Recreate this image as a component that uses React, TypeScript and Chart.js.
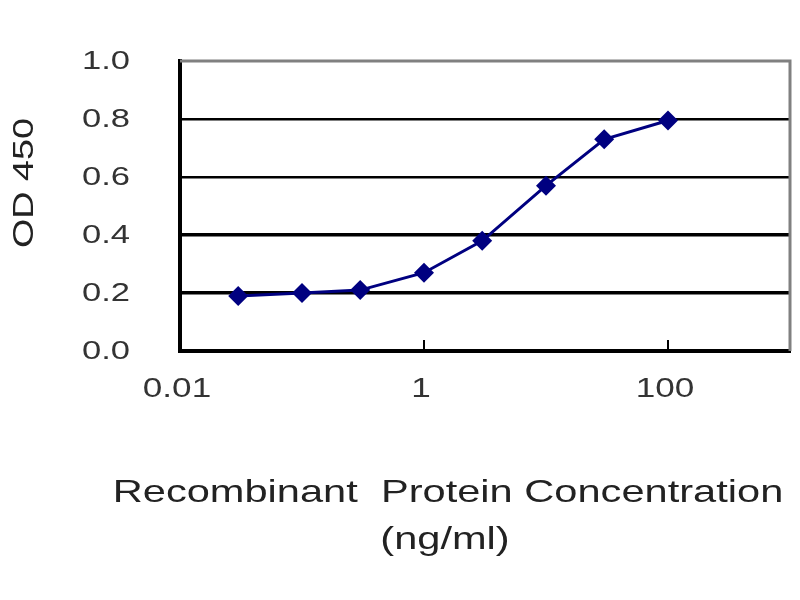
import { useEffect, useRef } from "react"
import { Chart, registerables } from "chart.js"

Chart.register(...registerables)

// concentration (ng/ml) and OD 450 readings
const CONCENTRATIONS = [0.03, 0.1, 0.3, 1, 3, 10, 30, 100]
const OD_VALUES = [0.19, 0.2, 0.21, 0.27, 0.38, 0.57, 0.73, 0.795]

const X_TICKS = [0.01, 1, 100]
const X_TICK_LABELS = ["0.01", "1", "100"]
const Y_TICKS = [0, 0.2, 0.4, 0.6, 0.8, 1.0]
const Y_TICK_LABELS = ["0.0", "0.2", "0.4", "0.6", "0.8", "1.0"]

const X_TITLE = ["Recombinant  Protein Concentration", "(ng/ml)"]
const Y_TITLE = "OD 450"

const FONT = '"Liberation Sans", Arial, sans-serif'

// text in the reference is drawn wide, so stretch it along its direction
function wideText(
  ctx: CanvasRenderingContext2D,
  text: string,
  x: number,
  y: number,
  size: number,
  stretch: number,
  color: string,
  rotate = 0
) {
  ctx.save()
  ctx.translate(x, y)
  if (rotate) ctx.rotate(rotate)
  ctx.scale(stretch, 1)
  ctx.font = `${size}px ${FONT}`
  ctx.fillStyle = color
  ctx.textAlign = "center"
  ctx.textBaseline = "middle"
  ctx.fillText(text, 0, 0)
  ctx.restore()
}

const framePlugin = {
  id: "frame",
  beforeDatasetsDraw(chart: Chart) {
    const { ctx, chartArea } = chart
    const xScale = chart.scales.x
    ctx.save()
    // grey top / right frame
    ctx.strokeStyle = "#808080"
    ctx.lineWidth = 3
    ctx.beginPath()
    ctx.moveTo(chartArea.left, chartArea.top)
    ctx.lineTo(chartArea.right, chartArea.top)
    ctx.lineTo(chartArea.right, chartArea.bottom)
    ctx.stroke()
    // inside tick marks on the x axis
    ctx.strokeStyle = "#000"
    ctx.lineWidth = 2
    X_TICKS.forEach((v) => {
      const px = xScale.getPixelForValue(v)
      ctx.beginPath()
      ctx.moveTo(px, chartArea.bottom)
      ctx.lineTo(px, chartArea.bottom - 11)
      ctx.stroke()
    })
    ctx.restore()
  },
}

const labelPlugin = {
  id: "wideLabels",
  afterDraw(chart: Chart) {
    const { ctx, chartArea } = chart
    const xScale = chart.scales.x
    const yScale = chart.scales.y

    Y_TICKS.forEach((v, i) => {
      const py = yScale.getPixelForValue(v)
      const label = Y_TICK_LABELS[i]
      ctx.save()
      ctx.font = `26px ${FONT}`
      const w = ctx.measureText(label).width * 1.33
      ctx.restore()
      wideText(ctx, label, 130 - w / 2, py + 1, 26, 1.33, "#333")
    })

    X_TICKS.forEach((v, i) => {
      const px = xScale.getPixelForValue(v)
      wideText(ctx, X_TICK_LABELS[i], px - 3, chartArea.bottom + 39, 27, 1.3, "#333")
    })

    wideText(ctx, Y_TITLE, 25, 183, 29, 1.3, "#222", -Math.PI / 2)
    wideText(ctx, X_TITLE[0], 448, 493, 32, 1.3, "#222")
    wideText(ctx, X_TITLE[1], 445, 540, 32, 1.3, "#222")
  },
}

export default function App() {
  const chartRef = useRef<HTMLCanvasElement>(null)
  const chartInstance = useRef<Chart | null>(null)

  useEffect(() => {
    if (!chartRef.current) return
    if (chartInstance.current) chartInstance.current.destroy()

    const ctx = chartRef.current.getContext("2d")
    if (!ctx) return

    chartInstance.current = new Chart(ctx, {
      type: "line",
      data: {
        datasets: [
          {
            label: "OD 450",
            data: CONCENTRATIONS.map((c, i) => ({ x: c, y: OD_VALUES[i] })),
            borderColor: "#000080",
            backgroundColor: "#000080",
            borderWidth: 3,
            tension: 0,
            pointStyle: "rectRot",
            pointRadius: 10,
            pointBorderWidth: 0,
            pointBackgroundColor: "#000080",
          },
        ],
      },
      options: {
        animation: false,
        responsive: true,
        maintainAspectRatio: false,
        layout: {
          padding: { top: 61, right: 10, left: 0, bottom: 0 },
        },
        plugins: {
          legend: { display: false },
          tooltip: { enabled: false },
        },
        scales: {
          x: {
            type: "logarithmic",
            min: 0.01,
            max: 1000,
            afterBuildTicks: (scale) => {
              scale.ticks = X_TICKS.map((v) => ({ value: v }))
            },
            afterFit: (scale) => {
              scale.height = 249
            },
            grid: { display: false },
            border: { display: true, color: "#000", width: 4 },
            ticks: { display: false },
          },
          y: {
            min: 0,
            max: 1,
            afterBuildTicks: (scale) => {
              scale.ticks = Y_TICKS.map((v) => ({ value: v }))
            },
            afterFit: (scale) => {
              scale.width = 180
            },
            grid: {
              drawTicks: false,
              color: (c) => {
                const v = c.tick ? c.tick.value : 0
                if (v === 0 || v === 1) return "rgba(0,0,0,0)"
                return "#000"
              },
              lineWidth: (c) => {
                const v = c.tick ? c.tick.value : 0
                return v < 0.5 ? 3.5 : 2.5
              },
            },
            border: { display: true, color: "#000", width: 4 },
            ticks: { display: false },
          },
        },
      },
      plugins: [framePlugin, labelPlugin],
    })

    return () => {
      if (chartInstance.current) {
        chartInstance.current.destroy()
        chartInstance.current = null
      }
    }
  }, [])

  return (
    <div style={{ position: "absolute", left: 0, top: 0, width: 800, height: 600, background: "#fff" }}>
      <canvas ref={chartRef} />
    </div>
  )
}
